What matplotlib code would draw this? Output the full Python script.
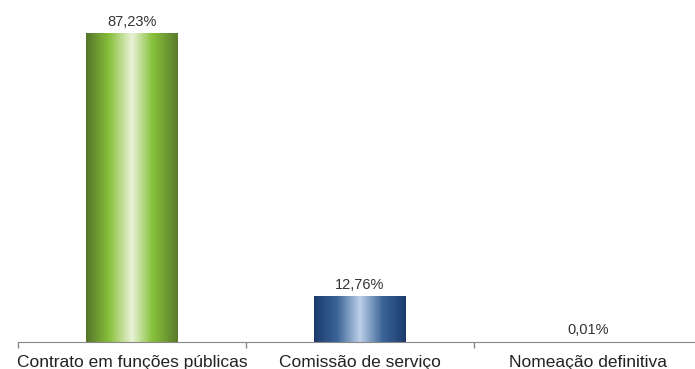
import numpy as np
import matplotlib
matplotlib.use("Agg")
import matplotlib.pyplot as plt
from matplotlib.colors import LinearSegmentedColormap

plt.rcParams["font.family"] = ["Liberation Sans", "DejaVu Sans"]

categories = ["Contrato em funções públicas", "Comissão de serviço", "Nomeação definitiva"]
values = [87.23, 12.76, 0.01]
value_labels = ["87,23%", "12,76%", "0,01%"]

# cylinder-like horizontal gradients, one per bar
green = LinearSegmentedColormap.from_list(
    "green", [(0, "#55752a"), (0.25, "#87c03a"), (0.5, "#eaf3d8"),
              (0.72, "#88c23c"), (1, "#5a7a2c")])
blue = LinearSegmentedColormap.from_list(
    "blue", [(0, "#1b3a6b"), (0.25, "#3a6497"), (0.5, "#bcd0e8"),
             (0.75, "#3a6497"), (1, "#1b3a6b")])
cmaps = [green, blue, blue]

fig = plt.figure(figsize=(6.95, 3.69), dpi=100)
ax = fig.add_axes([18 / 695, 27 / 369, 677 / 695, 342 / 369])

x = np.arange(len(categories))
width = 0.4
bars = ax.bar(x, values, width=width, color="none", zorder=2)

grad = np.linspace(0, 1, 256).reshape(1, -1)
for b, cm in zip(bars, cmaps):
    x0, y0 = b.get_x(), b.get_y()
    if b.get_height() <= 0.05:
        continue
    ax.imshow(grad, cmap=cm, aspect="auto", interpolation="bicubic",
              extent=(x0, x0 + b.get_width(), y0, y0 + b.get_height()),
              zorder=1)

for xi, v, lab in zip(x, values, value_labels):
    ax.annotate(lab, (xi, v), xytext=(0, 3.5), textcoords="offset points",
                ha="center", va="bottom", fontsize=10.5, color="#333333")

ax.set_xlim(-0.5, -0.5 + 677 / 228)
ax.set_ylim(0, 342 / 3.531)

ax.set_xticks(x)
ax.set_xticklabels(categories, fontsize=12.5, color="#222222")
ax.tick_params(axis="x", length=0, pad=9)
ax.set_xticks([-0.5, 0.5, 1.5], minor=True)
ax.tick_params(axis="x", which="minor", length=4, color="#888888", width=1)
ax.set_yticks([])
for s in ["top", "right", "left"]:
    ax.spines[s].set_visible(False)
ax.spines["bottom"].set_color("#888888")

fig.savefig("out.png", dpi=100)
